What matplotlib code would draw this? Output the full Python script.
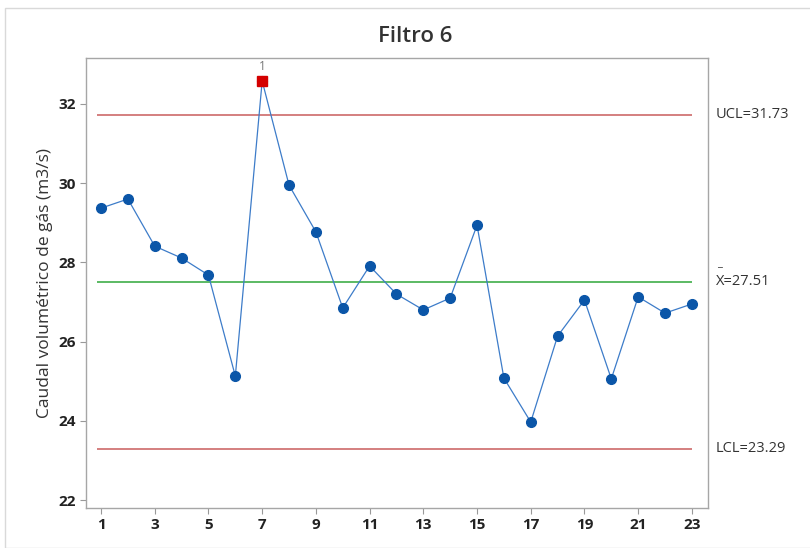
import matplotlib.pyplot as plt
from matplotlib.patches import Rectangle

# Data
samples = list(range(1, 24))
caudal = [29.37, 29.60, 28.41, 28.11, 27.68, 25.13, 32.58, 29.95, 28.77, 26.85,
          27.91, 27.20, 26.80, 27.10, 28.94, 25.08, 23.97, 26.14, 27.05, 25.06,
          27.13, 26.72, 26.95]
ucl = 31.73
center = 27.51
lcl = 23.29
out_of_control = [7]
x_ticks = list(range(1, 24, 2))
y_ticks = [22, 24, 26, 28, 30, 32]

plt.rcParams['font.family'] = ['Open Sans', 'DejaVu Sans']

fig = plt.figure(figsize=(8.1, 5.48), dpi=100)
ax = fig.add_axes([86 / 810, 1 - 508 / 548, (708 - 86) / 810, (508 - 58) / 548])

# light outer frame like the Minitab graph window
fig.patches.append(Rectangle((5 / 810, 0), 1, 1 - 8 / 548, transform=fig.transFigure,
                             fill=False, edgecolor='#d9d9d9', linewidth=1))

BLUE_LINE = '#3d7cc9'
BLUE_DOT = '#0b56a8'
RED_LIMIT = '#d17575'
GREEN = '#3fae49'
TXT = '#333333'

ax.plot(samples, caudal, color=BLUE_LINE, linewidth=0.9, zorder=2)
ax.plot(samples, caudal, 'o', color=BLUE_DOT, markersize=7, zorder=3)
for s in out_of_control:
    ax.plot(s, caudal[s - 1], 's', color='#d40000', markersize=7, zorder=4)
    ax.text(s, caudal[s - 1] + 0.2, '1', ha='center', va='bottom', fontsize=8.5, color='#777777')

x0, x1 = 0.85, 23.0
ax.hlines([ucl, lcl], x0, x1, color=RED_LIMIT, linewidth=1.3, zorder=1)
ax.hlines(center, x0, x1, color=GREEN, linewidth=1.2, zorder=1)

ax.set_xlim(0.44, 23.6)
ax.set_ylim(21.8, 33.16)
ax.set_xticks(x_ticks)
ax.set_yticks(y_ticks)
ax.tick_params(direction='out', length=4, color='#999999', labelsize=11, labelcolor='#222222')
for lab in ax.get_xticklabels() + ax.get_yticklabels():
    lab.set_fontweight('bold')
for sp in ax.spines.values():
    sp.set_color('#a6a6a6')
    sp.set_linewidth(1)

ax.set_ylabel('Caudal volumétrico de gás (m3/s)', fontsize=12.5, color=TXT, labelpad=4)
fig.text(415 / 810, 1 - 36 / 548, 'Filtro 6', ha='center', va='center',
         fontsize=16, color=TXT, fontweight='semibold')

# limit labels on the right
tr = ax.get_yaxis_transform()
lx = 1 + 8 / 622
ax.text(lx, ucl, 'UCL=31.73', transform=tr, ha='left', va='center', fontsize=10.5, color=TXT)
ax.text(lx, center, 'X=27.51', transform=tr, ha='left', va='center', fontsize=10.5, color=TXT)
ax.text(lx + 1 / 622, center + 0.45, '_', transform=tr, ha='left', va='center', fontsize=8, color=TXT)
ax.text(lx, lcl, 'LCL=23.29', transform=tr, ha='left', va='center', fontsize=10.5, color=TXT)

fig.savefig('out.png', dpi=100, facecolor='white')
